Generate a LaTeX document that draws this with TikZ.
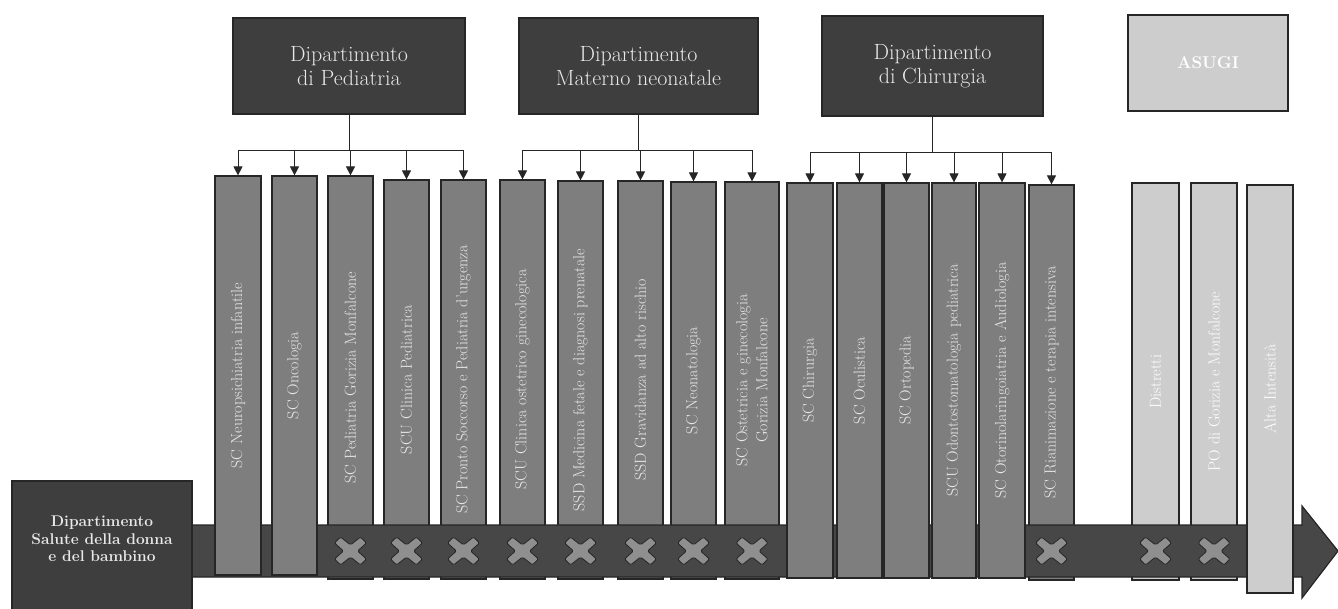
\documentclass[tikz,border=0pt]{standalone}
\usetikzlibrary{arrows.meta}
\definecolor{deptfill}{HTML}{3E3E3E}
\definecolor{barfill}{HTML}{7E7E7E}
\definecolor{bandfill}{HTML}{474747}
\definecolor{lightfill}{HTML}{CDCDCD}
\definecolor{linecol}{HTML}{262626}
\definecolor{txtlight}{HTML}{E8E8E8}
\definecolor{crossfill}{HTML}{8F8F8F}
\begin{document}
\begin{tikzpicture}[x=1pt,y=-1pt,
  dept/.style={draw=linecol, line width=1.2pt, fill=deptfill, text=txtlight, align=center,
    font=\fontsize{22}{24}\selectfont, inner sep=0pt},
  bar/.style={draw=linecol, line width=1.2pt, fill=barfill, text=txtlight, rotate=90,
    inner sep=0pt, align=center, font=\fontsize{16}{20}\selectfont},
  lbar/.style={bar, fill=lightfill, text=white},
  link/.style={draw=linecol, line width=1pt},
  tip/.style={link, -{Triangle[length=9pt,width=9pt]}},
  xcross/.pic={\draw[fill=crossfill, draw=linecol, line width=0.8pt, rounded corners=1.5pt]
    (0,-6) -- (10,-14) -- (16,-8) -- (7,0) -- (16,8) -- (10,14) -- (0,6) -- (-10,14)
    -- (-16,8) -- (-7,0) -- (-16,-8) -- (-10,-14) -- cycle;}
]
\useasboundingbox[fill=white] (0,0) rectangle (1338,608);

% department boxes
\node[dept, minimum width=232pt, minimum height=96pt] (ped) at (349,66) {Dipartimento\\di Pediatria};
\node[dept, minimum width=239pt, minimum height=96pt] (mat) at (638.5,66) {Dipartimento\\Materno neonatale};
\node[dept, minimum width=221pt, minimum height=100pt] (chi) at (932.5,66) {Dipartimento\\di Chirurgia};
\node[dept, fill=lightfill, text=white, font=\fontsize{17}{20}\selectfont\bfseries,
      minimum width=160pt, minimum height=96pt] (asu) at (1208,63) {ASUGI};

% bars behind the band
\node[bar, minimum width=403pt, minimum height=45pt] (b3) at (350.5,377.5) {SC Pediatria Gorizia Monfalcone};
\node[bar, minimum width=399pt, minimum height=45pt] (b4) at (406.5,379.5) {SCU Clinica Pediatrica};
\node[bar, minimum width=399pt, minimum height=45pt] (b5) at (463.5,379.5) {SC Pronto Soccorso e Pediatria d'urgenza};
\node[bar, minimum width=399pt, minimum height=45pt] (b6) at (522.5,379.5) {SCU Clinica ostetrico ginecologica};
\node[bar, minimum width=398pt, minimum height=45pt] (b7) at (580.5,380) {SSD Medicina fetale e diagnosi prenatale};
\node[bar, minimum width=398pt, minimum height=45pt] (b8) at (640.5,380) {SSD Gravidanza ad alto rischio};
\node[bar, minimum width=397pt, minimum height=45pt] (b9) at (693.5,380.5) {SC Neonatologia};
\node[bar, minimum width=397pt, minimum height=54pt] (b10) at (752,380.5) {SC Ostetricia e ginecologia\\Gorizia Monfalcone};
\node[bar, minimum width=395pt, minimum height=45pt] (b16) at (1051.5,382.5) {SC Rianimazione e terapia intensiva};
\node[lbar, minimum width=397pt, minimum height=47pt] (b17) at (1155.5,381.5) {Distretti};
\node[lbar, minimum width=397pt, minimum height=46pt] (b18) at (1214,381.5) {PO di Gorizia e Monfalcone};

% band arrow
\draw[fill=bandfill, draw=linecol, line width=1.2pt]
  (185,525) -- (1302,525) -- (1302,506) -- (1338,551) -- (1302,598) -- (1302,577) -- (185,577) -- cycle;

% bars in front of the band
\node[bar, minimum width=399pt, minimum height=46pt] (b1) at (238,375.5) {SC Neuropsichiatria infantile};
\node[bar, minimum width=399pt, minimum height=45pt] (b2) at (294.5,375.5) {SC Oncologia};
\node[bar, minimum width=395pt, minimum height=46pt] (b11) at (810,380.5) {SC Chirurgia};
\node[bar, minimum width=395pt, minimum height=45pt] (b12) at (859.5,380.5) {SC Oculistica};
\node[bar, minimum width=395pt, minimum height=45pt] (b13) at (906.5,380.5) {SC Ortopedia};
\node[bar, minimum width=395pt, minimum height=44pt] (b14) at (954,380.5) {SCU Odontostomatologia pediatrica};
\node[bar, minimum width=395pt, minimum height=46pt] (b15) at (1002,380.5) {SC Otorinolaringoiatria e Audiologia};
\node[lbar, minimum width=408pt, minimum height=46pt] (b19) at (1270,389) {Alta Intensit\`a};

% crosses
\foreach \b in {b3,b4,b5,b6,b7,b8,b9,b10,b16,b17,b18}
  \pic at (\b.center |- 0,551) {xcross};

% left department box
\node[draw=linecol, line width=1.2pt, fill=deptfill, minimum width=180pt, minimum height=134pt,
      inner sep=0pt] (sdb) at (102,548) {};
\node[text=txtlight, align=center, font=\fontsize{15.5}{17.5}\selectfont\bfseries] (sdbt) at (102,539)
  {Dipartimento\\Salute della donna\\e del bambino};

% connectors
\draw[link] (ped.south) -- (ped.south |- 0,150) coordinate (pedbus);
\draw[link] (b1.east |- pedbus) -- (b5.east |- pedbus);
\foreach \b in {b1,b2,b3,b4,b5} \draw[tip] (\b.east |- pedbus) -- (\b.east);

\draw[link] (mat.south) -- (mat.south |- 0,150) coordinate (matbus);
\draw[link] (b6.east |- matbus) -- (b10.east |- matbus);
\foreach \b in {b6,b7,b8,b9,b10} \draw[tip] (\b.east |- matbus) -- (\b.east);

\draw[link] (chi.south) -- (chi.south |- 0,152) coordinate (chibus);
\draw[link] (b11.east |- chibus) -- (b16.east |- chibus);
\foreach \b in {b11,b12,b13,b14,b15,b16} \draw[tip] (\b.east |- chibus) -- (\b.east);
\end{tikzpicture}
\end{document}
